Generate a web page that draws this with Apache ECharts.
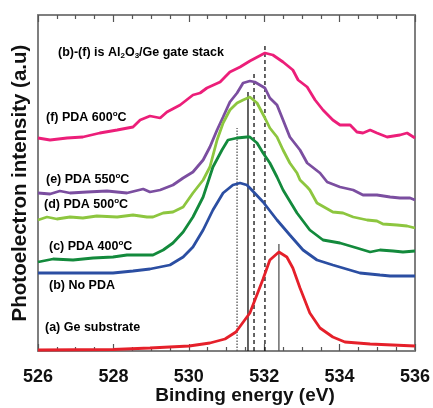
<!DOCTYPE html>
<html>
<head>
<meta charset="utf-8">
<script src="https://cdn.jsdelivr.net/npm/echarts@6/dist/echarts.min.js"></script>
<style>html,body{margin:0;padding:0;background:#fff}#c{width:433px;height:408px}</style>
</head>
<body>
<div id="c"></div>
<script>
// Binding energy (eV) vs photoelectron intensity (a.u., arbitrary offsets)
const xTicks = [526, 528, 530, 532, 534, 536];

const curveF_600 = [[526.00,213],[526.32,211],[526.77,213],[527.19,214],[527.64,218],[528.10,221],[528.52,224],[528.71,231],[528.97,235],[529.24,233],[529.42,239],[529.77,246],[530.11,256],[530.30,258],[530.48,263],[530.83,269],[531.09,279],[531.36,284],[531.62,290],[532.02,298],[532.23,296],[532.50,289],[532.76,281],[532.90,271],[533.14,264],[533.35,251],[533.56,241],[533.82,231],[534.01,226],[534.28,226],[534.46,219],[534.62,218],[534.81,221],[534.99,218],[535.26,214],[535.60,216],[535.79,218],[536.00,213]];

const curveE_550 = [[526.00,158],[526.32,157],[526.58,160],[526.85,158],[527.30,159],[527.83,160],[528.36,158],[528.79,162],[528.97,159],[529.24,161],[529.58,166],[529.85,173],[530.11,179],[530.38,191],[530.56,204],[530.75,221],[530.91,234],[531.09,249],[531.28,258],[531.44,268],[531.62,270],[531.75,269],[532.02,263],[532.15,253],[532.34,246],[532.50,231],[532.68,214],[532.95,201],[533.14,188],[533.48,178],[533.67,169],[534.01,164],[534.36,161],[534.62,156],[534.99,156],[535.34,154],[535.60,153],[535.87,153],[536.00,151]];

const curveD_500 = [[526.00,131],[526.24,134],[526.50,132],[526.85,134],[527.19,133],[527.56,135],[528.10,134],[528.52,136],[528.89,134],[529.05,134],[529.32,138],[529.58,139],[529.85,144],[530.11,158],[530.38,171],[530.56,184],[530.75,211],[530.91,228],[531.09,241],[531.28,248],[531.44,251],[531.62,254],[531.81,248],[532.02,233],[532.15,223],[532.34,214],[532.50,201],[532.68,188],[532.87,178],[532.95,171],[533.14,164],[533.21,161],[533.40,148],[533.82,139],[534.09,138],[534.36,134],[534.73,131],[534.99,130],[535.15,127],[535.52,126],[535.79,125],[536.00,123]];

const curveC_400 = [[526.00,89],[526.40,92],[526.93,91],[527.46,93],[527.99,94],[528.36,96],[528.71,96],[529.05,96],[529.32,101],[529.58,108],[529.85,119],[530.11,134],[530.38,154],[530.64,184],[530.88,201],[531.04,211],[531.28,213],[531.54,214],[531.62,214],[531.81,208],[531.97,198],[532.15,188],[532.34,174],[532.50,161],[532.87,138],[533.21,121],[533.56,111],[534.01,108],[534.46,103],[534.81,99],[535.07,101],[535.42,100],[535.68,99],[536.00,100]];

const curveB_none = [[526.00,78],[527.19,78],[527.99,78],[528.52,80],[528.97,82],[529.50,86],[529.85,94],[530.11,104],[530.38,121],[530.64,141],[530.91,158],[531.17,166],[531.36,168],[531.54,166],[531.62,163],[531.97,149],[532.34,131],[532.68,116],[533.03,101],[533.40,91],[533.82,86],[534.09,83],[534.54,78],[535.07,76],[535.34,75],[536.00,75]];

const curveA_Ge = [[526.00,1],[527.99,1.5],[528.97,3],[530.01,5],[530.56,8],[530.96,12],[531.25,19],[531.62,38],[531.97,72],[532.15,91],[532.39,99],[532.60,94],[532.76,83],[532.95,63],[533.21,38],[533.48,23],[533.82,14],[534.14,9],[534.81,7],[536.00,5]];

// vertical guide lines: peak positions and their heights
const guideEnergies = [531.28, 531.57, 531.73, 532.02, 532.39];
const guideTops = [223, 259, 278, 306, 107];
const guideStyles = ['dotted', 'solid', 'dashed', 'dashed', 'solid'];
const guideColors = ['#555', '#111', '#111', '#111', '#555'];

const xAxisTitle = 'Binding energy (eV)';
const yAxisTitle = 'Photoelectron intensity (a.u)';

const curveLabels = [
  {pre: '(f) PDA 600', deg: true, x: 46, y: 118},
  {pre: '(e) PDA 550', deg: true, x: 46, y: 180},
  {pre: '(d) PDA 500', deg: true, x: 44, y: 205},
  {pre: '(c) PDA 400', deg: true, x: 49, y: 247},
  {pre: '(b) No PDA', deg: false, x: 49, y: 286},
  {pre: '(a) Ge substrate', deg: false, x: 45, y: 328}
];

const chart = echarts.init(document.getElementById('c'), null, {renderer: 'canvas'});
const FONT = '"Liberation Sans", Arial, sans-serif';
const AXC = '#7f7f7f';

const curves = [
  {d: curveF_600, c: '#EC1E79'},
  {d: curveE_550, c: '#7B4EA0'},
  {d: curveD_500, c: '#8DC63F'},
  {d: curveC_400, c: '#138A3C'},
  {d: curveB_none, c: '#2B4EA2'},
  {d: curveA_Ge, c: '#E5202A'}
];

const series = [];
guideEnergies.forEach((e, i) => {
  series.push({
    type: 'line', data: [[e, 0], [e, guideTops[i]]], showSymbol: false, silent: true,
    lineStyle: {color: guideColors[i], width: 1.3, type: guideStyles[i] === 'dashed' ? [4, 3] : (guideStyles[i] === 'dotted' ? [1.5, 1.5] : 'solid')},
    z: 1
  });
});
curves.forEach(cv => {
  series.push({
    type: 'line', data: cv.d, showSymbol: false, smooth: false,
    lineStyle: {color: cv.c, width: 2.8}, z: 3
  });
});

const graphics = curveLabels.map(l => ({
  type: 'text', x: l.x, y: l.y,
  style: {
    text: l.deg ? '{n|' + l.pre + '}{sup|o}{n|C}' : '{n|' + l.pre + '}',
    verticalAlign: 'middle',
    rich: {
      n: {fontSize: 12.5, fontWeight: 'bold', fontFamily: FONT, color: '#111', lineHeight: 16},
      sup: {fontSize: 8, fontWeight: 'bold', fontFamily: FONT, color: '#111', lineHeight: 16, padding: [0, 0, 9, 0]}
    }
  }
}));
graphics.push({
  type: 'text', x: 58, y: 53,
  style: {
    text: '{n|(b)-(f) is Al}{s|2}{n|O}{s|3}{n|/Ge gate stack}',
    verticalAlign: 'middle',
    rich: {
      n: {fontSize: 12.5, fontWeight: 'bold', fontFamily: FONT, color: '#111', lineHeight: 16},
      s: {fontSize: 8, fontWeight: 'bold', fontFamily: FONT, color: '#111', lineHeight: 16, padding: [6, 0, 0, 0]}
    }
  }
});
graphics.push({
  type: 'text', x: 245, y: 396,
  style: {text: xAxisTitle, align: 'center', verticalAlign: 'middle',
    font: 'bold 19px ' + FONT, fill: '#111'}
});

chart.setOption({
  animation: false,
  backgroundColor: '#fff',
  grid: {left: 38, right: 18, top: 15, bottom: 57, outerBoundsMode: 'none', containLabel: false},
  xAxis: [{
    type: 'value', min: 526, max: 536, interval: 2, position: 'bottom',
    axisLine: {show: true, onZero: false, lineStyle: {color: AXC, width: 2}},
    axisTick: {show: true, inside: true, length: 7, lineStyle: {color: '#555', width: 1.2}},
    minorTick: {show: true, splitNumber: 4, length: 4, lineStyle: {color: '#555', width: 1.2}},
    axisLabel: {fontSize: 18, fontWeight: 'bold', fontFamily: FONT, color: '#111', margin: 17,
      formatter: v => xTicks.includes(v) ? String(v) : ''},
    splitLine: {show: false}
  }, {
    type: 'value', min: 526, max: 536, interval: 2, position: 'top',
    axisLine: {show: true, onZero: false, lineStyle: {color: AXC, width: 2}},
    axisTick: {show: true, inside: true, length: 7, lineStyle: {color: '#555', width: 1.2}},
    minorTick: {show: true, splitNumber: 4, length: 4, lineStyle: {color: '#555', width: 1.2}},
    axisLabel: {show: false}, splitLine: {show: false}
  }],
  yAxis: [{
    type: 'value', min: 0, max: 336, position: 'left',
    name: yAxisTitle, nameLocation: 'middle', nameGap: 7,
    nameTextStyle: {fontSize: 20.5, fontWeight: 'bold', fontFamily: FONT, color: '#111'},
    axisLine: {show: true, onZero: false, lineStyle: {color: AXC, width: 2}},
    axisTick: {show: false}, axisLabel: {show: false}, splitLine: {show: false}
  }, {
    type: 'value', min: 0, max: 336, position: 'right',
    axisLine: {show: true, onZero: false, lineStyle: {color: AXC, width: 2}},
    axisTick: {show: false}, axisLabel: {show: false}, splitLine: {show: false}
  }],
  series: series,
  graphic: graphics
});
</script>
</body>
</html>
